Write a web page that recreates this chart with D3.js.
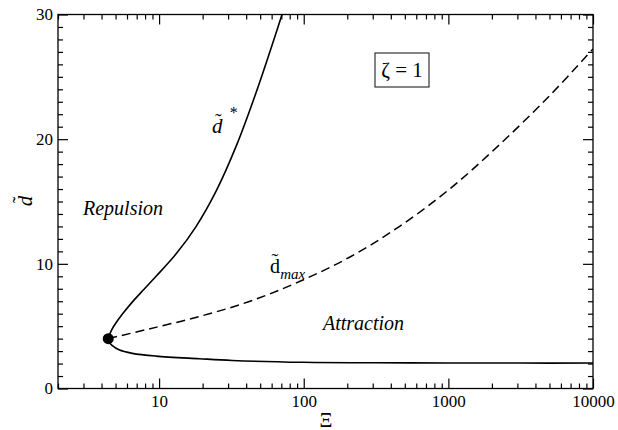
<!DOCTYPE html>
<html>
<head>
<meta charset="utf-8">
<script src="https://cdn.jsdelivr.net/npm/d3@7"></script>
<style>
  body { margin: 0; background: #fff; }
</style>
</head>
<body>
<script>
// values (Xi on a log axis, d~ linear)
// lower solid branch, from the critical point to the right
var lowerX = [4.52, 4.75, 5.28, 6.53, 9.49, 18.93, 32.06, 99.5, 314, 990, 3125, 10000];
var lowerY = [3.70, 3.44, 3.10, 2.82, 2.60, 2.39, 2.25, 2.10, 2.06, 2.05, 2.04, 2.04];
// upper solid branch d*
var upperX = [4.54, 4.72, 5.04, 5.63, 6.50, 7.87, 9.53, 13.12, 18.05, 24.83, 34.17, 47.0, 64.7, 71.2];
var upperY = [4.31, 4.75, 5.27, 6.03, 6.91, 7.96, 9.00, 10.80, 13.01, 15.85, 19.46, 23.79, 28.6, 30.1];
// dashed d_max
var dmaxX = [4.45, 8.53, 18.93, 42.05, 93.4, 207.4, 460.5, 1022.6, 2271, 5043, 10000];
var dmaxY = [4.0, 4.78, 5.77, 6.98, 8.58, 10.53, 13.01, 16.01, 19.59, 23.52, 27.24];
var critPoint = [4.45, 4.0];

var xMajor = [10, 100, 1000, 10000];
var xMajorLabels = ["10", "100", "1000", "10000"];
var yMajor = [0, 10, 20, 30];

(function(){
  var width = 618, height = 430;
  var left = 58, right = 593, top = 14.5, bottom = 388.5;
  var serif = "'Liberation Serif', 'Times New Roman', Times, serif";

  var svg = d3.select("body").append("svg")
    .attr("width", width)
    .attr("height", height)
    .style("font-family", serif);

  var x = d3.scaleLog().domain([2, 10000]).range([left, right]);
  var y = d3.scaleLinear().domain([0, 30]).range([bottom, top]);

  // minor ticks: 2..9 of every decade
  var xMinor = [];
  [1, 10, 100, 1000].forEach(function(dec){
    for (var k = 2; k <= 9; k++){
      var v = k * dec;
      if (v >= 2 && v <= 10000 && xMajor.indexOf(v) < 0) xMinor.push(v);
    }
  });
  var yMinor = d3.range(0, 31).filter(function(v){ return v % 10 != 0; });

  function styleAxis(g){
    g.attr("font-family", null).attr("font-size", null);
    g.select(".domain").remove();
    g.selectAll("line").attr("stroke", "#000").attr("stroke-width", 1.2);
    g.selectAll("text").attr("font-size", 17).attr("fill", "#000");
  }

  // bottom
  svg.append("g").attr("transform", "translate(0," + bottom + ")")
    .call(d3.axisBottom(x).tickValues(xMinor).tickSize(-5).tickFormat(""))
    .call(styleAxis);
  svg.append("g").attr("transform", "translate(0," + bottom + ")")
    .call(d3.axisBottom(x).tickValues(xMajor).tickSize(-10).tickPadding(6)
      .tickFormat(function(d, i){ return xMajorLabels[i]; }))
    .call(styleAxis);
  // top
  svg.append("g").attr("transform", "translate(0," + top + ")")
    .call(d3.axisTop(x).tickValues(xMinor).tickSize(-5).tickFormat(""))
    .call(styleAxis);
  svg.append("g").attr("transform", "translate(0," + top + ")")
    .call(d3.axisTop(x).tickValues(xMajor).tickSize(-10).tickFormat(""))
    .call(styleAxis);
  // left
  svg.append("g").attr("transform", "translate(" + left + ",0)")
    .call(d3.axisLeft(y).tickValues(yMinor).tickSize(-5).tickFormat(""))
    .call(styleAxis);
  svg.append("g").attr("transform", "translate(" + left + ",0)")
    .call(d3.axisLeft(y).tickValues(yMajor).tickSize(-10).tickPadding(5).tickFormat(d3.format("d")))
    .call(styleAxis);
  // right
  svg.append("g").attr("transform", "translate(" + right + ",0)")
    .call(d3.axisRight(y).tickValues(yMinor).tickSize(-5).tickFormat(""))
    .call(styleAxis);
  svg.append("g").attr("transform", "translate(" + right + ",0)")
    .call(d3.axisRight(y).tickValues(yMajor).tickSize(-10).tickFormat(""))
    .call(styleAxis);

  // frame
  svg.append("rect")
    .attr("x", left).attr("y", top)
    .attr("width", right - left).attr("height", bottom - top)
    .attr("fill", "none").attr("stroke", "#000").attr("stroke-width", 1.3);

  svg.append("clipPath").attr("id", "plot")
    .append("rect").attr("x", left).attr("y", top)
    .attr("width", right - left).attr("height", bottom - top);

  var line = d3.line()
    .x(function(d){ return x(d[0]); })
    .y(function(d){ return y(d[1]); })
    .curve(d3.curveCatmullRom.alpha(0.5));

  function pairs(xs, ys){ return xs.map(function(v, i){ return [v, ys[i]]; }); }

  // the two solid branches meet at the critical point: one path through it
  var solid = pairs(lowerX, lowerY).reverse()
    .concat([critPoint])
    .concat(pairs(upperX, upperY));

  var curves = svg.append("g").attr("clip-path", "url(#plot)");
  curves.append("path").attr("d", line(solid))
    .attr("fill", "none").attr("stroke", "#000").attr("stroke-width", 1.6);
  curves.append("path").attr("d", line(pairs(dmaxX, dmaxY)))
    .attr("fill", "none").attr("stroke", "#000").attr("stroke-width", 1.5)
    .attr("stroke-dasharray", "9,5");

  svg.append("circle")
    .attr("cx", x(critPoint[0])).attr("cy", y(critPoint[1]))
    .attr("r", 5.5).attr("fill", "#000");

  // region labels
  svg.append("text").attr("x", 83).attr("y", 215)
    .attr("font-size", 20).attr("font-style", "italic").text("Repulsion");
  svg.append("text").attr("x", 323).attr("y", 330)
    .attr("font-size", 20).attr("font-style", "italic").text("Attraction");

  // d~* label
  var ds = svg.append("text").attr("x", 212).attr("y", 133).attr("font-size", 21);
  ds.append("tspan").attr("font-style", "italic").text("d");
  ds.append("tspan").attr("dx", -7.5).attr("dy", -5).attr("font-size", 20).text("\u02DC");
  ds.append("tspan").attr("dx", 8).attr("dy", -10).attr("font-size", 16).text("*");

  // d~max label
  var dm = svg.append("text").attr("x", 270).attr("y", 273).attr("font-size", 20);
  dm.append("tspan").text("d");
  dm.append("tspan").attr("dx", -8.5).attr("dy", -5).text("\u02DC");
  dm.append("tspan").attr("dx", 2).attr("dy", 11).attr("font-size", 15)
    .attr("font-style", "italic").text("max");

  // zeta box
  svg.append("rect").attr("x", 375).attr("y", 53)
    .attr("width", 54).attr("height", 34)
    .attr("fill", "none").attr("stroke", "#333").attr("stroke-width", 1.2);
  svg.append("text").attr("x", 402).attr("y", 77)
    .attr("text-anchor", "middle").attr("font-size", 21).text("\u03B6 = 1");

  // axis titles
  var yl = svg.append("text")
    .attr("transform", "translate(32,201) rotate(-90)")
    .attr("text-anchor", "middle").attr("font-size", 21);
  yl.append("tspan").attr("font-style", "italic").text("d");
  yl.append("tspan").attr("dx", -7.5).attr("dy", -5).attr("font-size", 20).text("\u02DC");

  svg.append("text").attr("x", 326).attr("y", 427)
    .attr("text-anchor", "middle").attr("font-size", 20).text("\u039E");

  svg.selectAll("text").style("font-family", serif).attr("fill", "#000");
})();
</script>
</body>
</html>
